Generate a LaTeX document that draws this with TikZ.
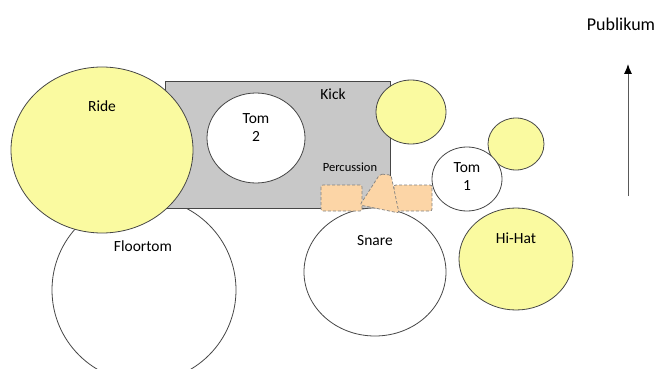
\documentclass[tikz,border=0pt]{standalone}
\usepackage{fontspec}
\setmainfont{Carlito}
\usetikzlibrary{shapes.geometric,arrows.meta}

\definecolor{cymbal}{RGB}{250,250,160}
\definecolor{kickgray}{RGB}{200,200,200}
\definecolor{percorange}{RGB}{252,213,166}
\definecolor{rim}{RGB}{70,70,70}

\begin{document}
\begin{tikzpicture}[x=1pt,y=-1pt,
  drum/.style={ellipse, draw=rim, line width=0.8pt, fill=white, inner sep=0pt},
  plate/.style={drum, fill=cymbal},
  lbl/.style={font=\fontsize{15.5}{18}\selectfont, text=black, inner sep=0pt, align=center},
  perc/.style={fill=percorange, draw=gray, densely dashed, line width=0.7pt, rounded corners=2pt}]
			\path[use as bounding box] (0,0) rectangle (662,369);
			\clip (0,0) rectangle (662,369);
			% Drums behind the kick
			\node[drum, minimum width=184, minimum height=184] (floortom) at (144,290) {};
			\node[draw=rim, line width=0.8pt, fill=kickgray, minimum width=225, minimum height=127, inner sep=0pt] (kick) at (277.5,144.5) {};
			% Cymbals and toms
			\node[plate, minimum width=182, minimum height=166] (ride) at (102,150) {};
			\node[drum, minimum width=98, minimum height=90] (tomtwo) at (256,138) {};
			\node[plate, minimum width=70, minimum height=64] (crash) at (411,112) {};
			\node[plate, minimum width=56, minimum height=52] (splash) at (516,144) {};
			\node[drum, minimum width=70, minimum height=64] (tomone) at (467,179) {};
			\node[plate, minimum width=114, minimum height=102] (hihat) at (516,259) {};
			\node[drum, minimum width=142, minimum height=128] (snare) at (375,272) {};
			% Percussion blocks
			\draw[perc] (321,185) rectangle (362,211);
			\draw[perc] (394,185) rectangle (432,211);
			\draw[perc] (380,174) -- (391,175) -- (399,213) -- (360,205) -- cycle;
			% Labels
			\node[lbl] (rideLbl) at (102,106) {Ride};
			\node[lbl] (kickLbl) at (333,94) {Kick};
			\node[lbl] (tomtwoLbl) at (256,128) {Tom\\2};
			\node[lbl] (tomoneLbl) at (467,177) {Tom\\1};
			\node[lbl] (floortomLbl) at (143,246) {Floortom};
			\node[lbl] (snareLbl) at (375,241) {Snare};
			\node[lbl] (hihatLbl) at (516,238) {Hi-Hat};
			\node[lbl, font=\fontsize{12.5}{14}\selectfont] (percLbl) at (350,167) {Percussion};
			% Audience direction
			\node[lbl, font=\fontsize{18}{20}\selectfont] (publikum) at (621,24) {Publikum};
			\coordinate (audBase) at (628,196);
			\coordinate (audTip) at (628,64);
			\draw[gray!70!black, line width=1pt, -{Latex[length=10pt,width=8pt,black]}] (audBase) -- (audTip);
		\end{tikzpicture}
\end{document}
